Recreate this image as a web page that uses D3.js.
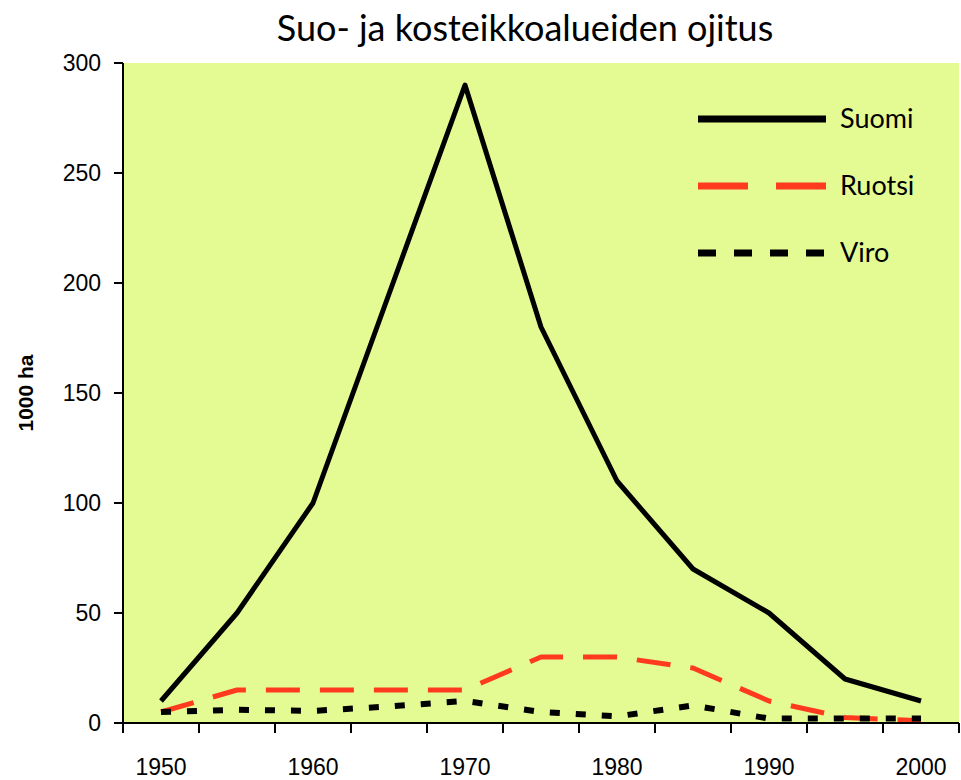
<!DOCTYPE html>
<html>
<head>
<meta charset="utf-8">
<script src="https://cdn.jsdelivr.net/npm/d3@7"></script>
<style>
  body { margin: 0; background: #fff; }
</style>
</head>
<body>
<svg id="chart" width="961" height="780"></svg>
<script>
// data
const years = [1950, 1955, 1960, 1965, 1970, 1975, 1980, 1985, 1990, 1995, 2000];
const tickYears = [1950, 1960, 1970, 1980, 1990, 2000];
const suomi = [10, 50, 100, 195, 290, 180, 110, 70, 50, 20, 10];
const ruotsi = [5, 15, 15, 15, 15, 30, 30, 25, 10, 2.5, 1];
const viro = [5, 6, 5.5, 7.5, 10, 5, 3, 8, 2, 2, 2];
const yTicks = [0, 50, 100, 150, 200, 250, 300];

(() => {
  const series = [
    { name: 'Suomi', values: suomi, color: '#000', dash: null, width: 5 },
    { name: 'Ruotsi', values: ruotsi, color: '#ff3a1f', dash: '34,20', width: 5 },
    { name: 'Viro', values: viro, color: '#000', dash: '10,16', width: 6 }
  ];

  const svg = d3.select('#chart');
  const pLeft = 123, pRight = 959, pTop = 63, pBottom = 723;

  svg.append('rect')
      .attr('x', pLeft).attr('y', pTop)
      .attr('width', pRight - pLeft).attr('height', pBottom - pTop)
      .attr('fill', '#e4fb93');

  const x = d3.scaleBand().domain(years).range([pLeft, pRight]);
  const y = d3.scaleLinear().domain([0, 300]).range([pBottom, pTop]);

  // lines
  const line = d3.line()
      .x((d, i) => x(years[i]) + x.bandwidth() / 2)
      .y(d => y(d));

  series.forEach(s => {
    svg.append('path')
        .datum(s.values)
        .attr('d', line)
        .attr('fill', 'none')
        .attr('stroke', s.color)
        .attr('stroke-width', s.width)
        .attr('stroke-dasharray', s.dash)
        .attr('stroke-linejoin', 'round');
  });

  // y axis
  svg.append('line')
      .attr('x1', pLeft).attr('x2', pLeft).attr('y1', pTop).attr('y2', pBottom)
      .attr('stroke', '#000').attr('stroke-width', 2);
  yTicks.forEach(t => {
    svg.append('line')
        .attr('x1', pLeft - 9).attr('x2', pLeft).attr('y1', y(t)).attr('y2', y(t))
        .attr('stroke', '#000').attr('stroke-width', 2);
    svg.append('text')
        .attr('x', pLeft - 22).attr('y', y(t) + 8)
        .attr('text-anchor', 'end')
        .attr('font-family', 'Liberation Sans, Arial, sans-serif')
        .attr('font-size', 23)
        .text(t);
  });

  // x axis
  svg.append('line')
      .attr('x1', pLeft).attr('x2', pRight).attr('y1', pBottom).attr('y2', pBottom)
      .attr('stroke', '#000').attr('stroke-width', 2);
  d3.range(years.length + 1).forEach(i => {
    const xp = pLeft + i * x.bandwidth();
    svg.append('line')
        .attr('x1', xp).attr('x2', xp).attr('y1', pBottom).attr('y2', pBottom + 10)
        .attr('stroke', '#000').attr('stroke-width', 2);
  });
  tickYears.forEach(yr => {
    svg.append('text')
        .attr('x', x(yr) + x.bandwidth() / 2).attr('y', 775)
        .attr('text-anchor', 'middle')
        .attr('font-family', 'Liberation Sans, Arial, sans-serif')
        .attr('font-size', 23)
        .text(yr);
  });

  // axis title
  svg.append('text')
      .attr('transform', `translate(33,${(pTop + pBottom) / 2}) rotate(-90)`)
      .attr('text-anchor', 'middle')
      .attr('font-family', 'Liberation Sans, Arial, sans-serif')
      .attr('font-weight', 'bold')
      .attr('font-size', 21)
      .text('1000 ha');

  // title
  svg.append('text')
      .attr('x', 525).attr('y', 41)
      .attr('text-anchor', 'middle')
      .attr('font-family', 'Lato, sans-serif')
      .attr('font-size', 36)
      .text('Suo- ja kosteikkoalueiden ojitus');

  // legend
  const legendDash = [null, '50,28', '18,18'];
  series.forEach((s, i) => {
    const ly = 119 + i * 67;
    svg.append('line')
        .attr('x1', 698).attr('x2', 826).attr('y1', ly).attr('y2', ly)
        .attr('stroke', s.color).attr('stroke-width', 7)
        .attr('stroke-dasharray', legendDash[i]);
    svg.append('text')
        .attr('x', 840).attr('y', ly + 9)
        .attr('font-family', 'Lato, sans-serif')
        .attr('font-size', 27)
        .text(s.name);
  });
})();
</script>
</body>
</html>
